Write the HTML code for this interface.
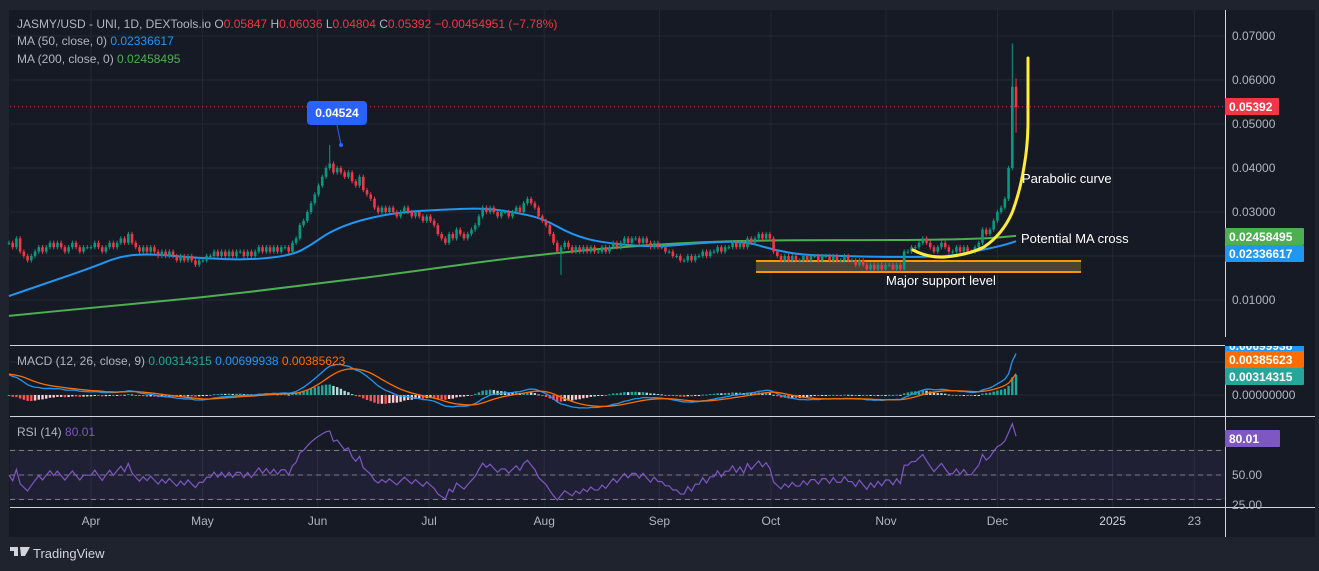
<!DOCTYPE html>
<html><head><meta charset="utf-8"><style>
html,body{margin:0;padding:0;background:#1f232e;width:1319px;height:571px;overflow:hidden;font-family:"Liberation Sans",sans-serif}
svg{display:block}
</style></head><body>
<svg id="c" width="1319" height="571" xmlns="http://www.w3.org/2000/svg">
<rect x="0" y="0" width="1319" height="571" fill="#1f232e"/>
<rect x="9" y="10" width="1306" height="527" fill="#161a25"/>
<g id="grid"></g>
<g id="main"></g>
<g id="macd"></g>
<g id="rsi"></g>
<g id="axes"></g>
<g id="ann"></g>
</svg>
<script>
// ---- data (prices in thousandths of USD), daily from Mar 10 to Dec 5 ----
const closes = [
23,22,24,21,20,19,20,21,22,21,22,23,22,23,22,21,22,23,22,21,22,22,
22,23,22,21,22,23,22,23,24,23,25,23,22,21,22,21,22,21,20,21,20,21,20,19,20,19,20,19,18,19,
19,20,20,21,20,21,20,21,20,21,21,20,21,20,21,22,21,22,21,22,21,22,22,21,23,24,27,28,30,32,34,
36,38,40,41,39,40,39,38,39,37,36,38,35,34,33,31,30,31,30,31,30,29,30,31,30,29,30,29,28,29,
28,27,25,24,23,25,24,26,25,24,25,26,27,29,31,30,31,30,29,30,30,29,30,31,30,32,33,32,31,29,28,
27,25,23,21,22,23,22,21,22,21,22,21,22,21,21,22,21,22,23,22,23,24,23,24,24,23,24,23,22,23,22,
22,21,21,20,20,19,19,20,19,20,20,21,20,21,21,22,21,22,22,23,22,23,22,24,23,24,25,24,25,24,
21,20,19,20,19,20,19,19,20,19,20,20,19,20,20,19,20,19,19,20,19,19,18,19,18,17,18,17,18,17,18,
18,17,18,17,21,21,22,22,23,24,23,22,21,22,23,22,21,21,22,21,22,21,21,22,23,26,25,26,28,30,
31,33,40,58.47,53.92];
const extremeIdx = [86, 148, 269, 270];
const extremeHigh = [45.24, null, 68.3, 60.36];
const extremeLow = [null, 15.7, 39.5, 48.04];
const ma50Idx = [0,11,22,30,38,51,65,76,81,86,94,105,116,127,135,143,151,159,173,186,197,205,213,224,234,243,253,261,267,270];
const ma50Val = [10.9,14.1,17.3,20.0,20.5,19.5,19.1,20.2,22.5,25.5,28.2,30.0,30.5,30.9,30.0,28.6,24.8,23.0,22.0,23.0,23.4,21.4,20.2,20.0,19.8,19.8,20.0,21.4,22.5,23.37];
const ma200Idx = [0,24,51,78,105,132,159,186,205,240,261,270];
const ma200Val = [6.4,8.4,10.5,13.2,16.1,19.3,21.8,23.2,23.6,23.6,23.9,24.58];
const priceTicks = [10,20,30,40,50,60,70];
const priceTickLabels = ["0.01000","0.02000","0.03000","0.04000","0.05000","0.06000","0.07000"];
const monthIdx = [22,52,83,113,144,175,205,236,266,297,319];
const monthLabels = ["Apr","May","Jun","Jul","Aug","Sep","Oct","Nov","Dec","2025","23"];

const NS="http://www.w3.org/2000/svg";
function mk(tag,attrs,parent){const e=document.createElementNS(NS,tag);for(const k in attrs)e.setAttribute(k,attrs[k]);parent.appendChild(e);return e;}
const X = i => 91 + (i-22)*3.73;
const XT = i => 91 + (i-22)*3.715;
const Y = p => 300 - (p-10)*4.4;
const MY = v => 395 - v*6.14;
const RY = r => 475 - (r-50)*1.225;

const grid=document.getElementById('grid');
monthIdx.forEach((m,i)=>{const l=mk('line',{x1:XT(m),x2:XT(m),y1:10,y2:507,stroke:'#242833','stroke-width':1},grid);

});
priceTicks.forEach((p,i)=>{const l=mk('line',{x1:10,x2:1225,y1:Y(p),y2:Y(p),stroke:'#242833'},grid);

});
[362,395,450,475,499].forEach(y=>{const l=mk('line',{x1:10,x2:1225,y1:y,y2:y,stroke:'#242833'},grid);

});

// ---- main pane ----
const main=document.getElementById('main');
function interp(idx,val){const out=[];for(let k=0;k<idx.length;k++)out.push([X(idx[k]),Y(val[k])]);return out;}
function curvePath(pts){let d='M'+pts[0][0]+','+pts[0][1];for(let i=1;i<pts.length;i++){const p0=pts[i-1],p1=pts[i];const mx=(p0[0]+p1[0])/2;d+=' Q'+p0[0]+','+p0[1]+' '+mx+','+((p0[1]+p1[1])/2);}const l=pts[pts.length-1];d+=' L'+l[0]+','+l[1];return d;}
let p=mk('path',{d:curvePath(interp(ma200Idx,ma200Val)),fill:'none',stroke:'#4caf50','stroke-width':2},main);


p=mk('path',{d:curvePath(interp(ma50Idx,ma50Val)),fill:'none',stroke:'#2196f3','stroke-width':2},main);


// support zone
const sz=mk('rect',{x:756,y:261,width:325,height:11,fill:'#4a4530'},main);


[261,272].forEach(y=>{const l=mk('line',{x1:756,x2:1081,y1:y,y2:y,stroke:'#ff9800','stroke-width':2},main);

});
// candles
for(let i=0;i<closes.length;i++){
  const c=closes[i], o=i>0?closes[i-1]:c;
  let h=Math.max(o,c)+0.5, lo=Math.min(o,c)-0.5;
  const e=extremeIdx.indexOf(i);
  if(e>=0){if(extremeHigh[e]!==null)h=extremeHigh[e];if(extremeLow[e]!==null)lo=extremeLow[e];}
  const col=c>=o?'#089981':'#f23645';
  const x=X(i);
  const w=mk('line',{x1:x,x2:x,y1:Y(h),y2:Y(lo),stroke:col,'stroke-width':1},main);
  
  
  const top=Y(Math.max(o,c)), bh=Math.max(1,Y(Math.min(o,c))-top);
  const b=mk('rect',{x:x-1.3,y:top,width:2.6,height:bh,fill:col},main);
  
  
}
p=mk('line',{x1:10,x2:1225,y1:Y(53.92),y2:Y(53.92),stroke:'#f23645','stroke-dasharray':'1,3'},main);



// ---- MACD ----
const macdG=document.getElementById('macd');
let e12=closes[0], e26=closes[0]-3.6, sig=3.4;
const mline=[],sline=[],hist=[];
for(let i=0;i<closes.length;i++){const c=closes[i];e12=e12+(c-e12)*2/13;e26=e26+(c-e26)*2/27;const m=e12-e26;sig=sig+(m-sig)*2/10;mline.push(m);sline.push(sig);hist.push(m-sig);}
for(let i=0;i<hist.length;i++){const h=hist[i],prev=i>0?hist[i-1]:0;
  const col=h>=0?(h>=prev?'#26a69a':'#b2dfdb'):(h<prev?'#ff5252':'#ffcdd2');
  const y0=MY(0),y1=MY(h);
  const r=mk('rect',{x:X(i)-1.2,y:Math.min(y0,y1),width:2.4,height:Math.max(1,Math.abs(y1-y0)),fill:col},macdG);
  
  }
p=mk('polyline',{points:mline.map((v,i)=>X(i)+','+MY(v)).join(' '),fill:'none',stroke:'#2196f3','stroke-width':1.3},macdG);


p=mk('polyline',{points:sline.map((v,i)=>X(i)+','+MY(v)).join(' '),fill:'none',stroke:'#ff6d00','stroke-width':1.3},macdG);



// ---- RSI ----
const rsiG=document.getElementById('rsi');
p=mk('rect',{x:10,y:RY(70),width:1215,height:RY(30)-RY(70),fill:'#7e57c2','fill-opacity':0.1},rsiG);


[70,50,30].forEach(v=>{const l=mk('line',{x1:10,x2:1225,y1:RY(v),y2:RY(v),stroke:'#787b86','stroke-dasharray':'5,4'},rsiG);

});
let ag=0.4,al=0.4;const rsi=[];
for(let i=0;i<closes.length;i++){const d=i>0?closes[i]-closes[i-1]:0;const g=Math.max(d,0),l=Math.max(-d,0);ag=(ag*13+g)/14;al=(al*13+l)/14;rsi.push(al===0?100:100-100/(1+ag/al));}
p=mk('polyline',{points:rsi.map((v,i)=>X(i)+','+RY(Math.min(97,v))).join(' '),fill:'none',stroke:'#7e57c2','stroke-width':1.2},rsiG);



// ---- axes ----
const ax=document.getElementById('axes');
function txt(s,x,y,attrs,name,parent){const t=mk('text',Object.assign({x:x,y:y,'font-size':12,fill:'#b2b5be'},attrs||{}),parent||ax);t.textContent=s;return t;}
function line(x1,y1,x2,y2,col,name){const l=mk('line',{x1:x1,y1:y1,x2:x2,y2:y2,stroke:col},ax);}
line(10,345.5,1315,345.5,'#d1d4dc','pane-separator-macd');
line(10,416.5,1315,416.5,'#d1d4dc','pane-separator-rsi');
line(10,507.5,1315,507.5,'#d1d4dc','time-axis-border');
line(1225.5,10,1225.5,537,'#d1d4dc','price-axis-border');
priceTicks.forEach((v,i)=>txt(priceTickLabels[i],1232,Y(v)+4,{},'price-tick-label'));
monthIdx.forEach((m,i)=>txt(monthLabels[i],XT(m),525,{'text-anchor':'middle',fill:monthLabels[i]==='2025'?'#d1d4dc':'#b2b5be'},'time-tick-label'));
txt('0.00000000',1232,399,{},'macd-zero-label');
txt('50.00',1232,479,{},'rsi-50-label');
txt('25.00',1232,509,{},'rsi-25-label');
function badge(s,y,w,col,name){const r=mk('rect',{x:1225,y:y,width:w,height:17,fill:col,rx:1},ax);txt(s,1229,y+13,{fill:'#fff','font-weight':'bold'},name);}
badge('0.05392',98,54,'#f23645','last-price-badge');
badge('0.02458495',228,79,'#4caf50','ma200-badge');
badge('0.02336617',245,79,'#2196f3','ma50-badge');
badge('0.00699938',337,79,'#2196f3','macd-badge');
mk('rect',{x:1225,y:337,width:90,height:9,fill:'#161a25'},ax);
badge('0.00385623',351,79,'#ff6d00','signal-badge');
badge('0.00314315',368,79,'#26a69a','histogram-badge');
badge('80.01',430,55,'#7e57c2','rsi-badge');

// legends
const lg={'font-size':12};
let t=txt('',17,28,lg,'symbol-legend');
t.innerHTML='<tspan fill="#b2b5be">JASMY/USD - UNI, 1D, DEXTools.io  O</tspan><tspan fill="#f23645">0.05847</tspan><tspan fill="#b2b5be">  H</tspan><tspan fill="#f23645">0.06036</tspan><tspan fill="#b2b5be">  L</tspan><tspan fill="#f23645">0.04804</tspan><tspan fill="#b2b5be">  C</tspan><tspan fill="#f23645">0.05392  −0.00454951 (−7.78%)</tspan>';
t.setAttribute('xml:space','preserve');
t=txt('',17,45,lg,'ma50-legend');t.innerHTML='<tspan fill="#b2b5be">MA (50, close, 0)  </tspan><tspan fill="#2196f3">0.02336617</tspan>';t.setAttribute('xml:space','preserve');
t=txt('',17,63,lg,'ma200-legend');t.innerHTML='<tspan fill="#b2b5be">MA (200, close, 0)  </tspan><tspan fill="#4caf50">0.02458495</tspan>';t.setAttribute('xml:space','preserve');
t=txt('',17,365,lg,'macd-legend');t.innerHTML='<tspan fill="#b2b5be">MACD (12, 26, close, 9)  </tspan><tspan fill="#26a69a">0.00314315</tspan><tspan>  </tspan><tspan fill="#2196f3">0.00699938</tspan><tspan>  </tspan><tspan fill="#ff6d00">0.00385623</tspan>';t.setAttribute('xml:space','preserve');
t=txt('',17,436,lg,'rsi-legend');t.innerHTML='<tspan fill="#b2b5be">RSI (14)  </tspan><tspan fill="#7e57c2">80.01</tspan>';t.setAttribute('xml:space','preserve');

// ---- annotations ----
const an=document.getElementById('ann');
p=mk('line',{x1:337,y1:125,x2:341,y2:145,stroke:'#2962ff','stroke-width':1},an);


p=mk('circle',{cx:341,cy:145,r:2,fill:'#2962ff'},an);


p=mk('rect',{x:307,y:101,width:60,height:24,rx:4,fill:'#2962ff'},an);


txt('0.04524',337,117,{'text-anchor':'middle',fill:'#fff','font-weight':'bold'},'high-callout-label',an);
p=mk('path',{d:'M913,250 Q928,258 945,257 Q968,255 984,247 Q1002,235 1012,213 Q1020,192 1024,167 Q1028,145 1028,120 L1028,58',fill:'none',stroke:'#ffeb3b','stroke-width':3,'stroke-linecap':'round'},an);


txt('Parabolic curve',1022,183,{fill:'#fff','font-size':13},'parabolic-curve-label',an);
txt('Potential MA cross',1021,243,{fill:'#fff','font-size':13},'ma-cross-label',an);
txt('Major support level',886,285,{fill:'#fff','font-size':13},'support-label',an);

// logo
const lgG=mk('g',{},an);


mk('path',{d:'M10,547 h8 v9 h-4 v-5 h-4z M20,547 h10 l-5,9 h-4z',fill:'#d1d4dc'},lgG);
txt('TradingView',33,558,{fill:'#d1d4dc','font-size':13},'tradingview-wordmark',an);
</script>
</body></html>
